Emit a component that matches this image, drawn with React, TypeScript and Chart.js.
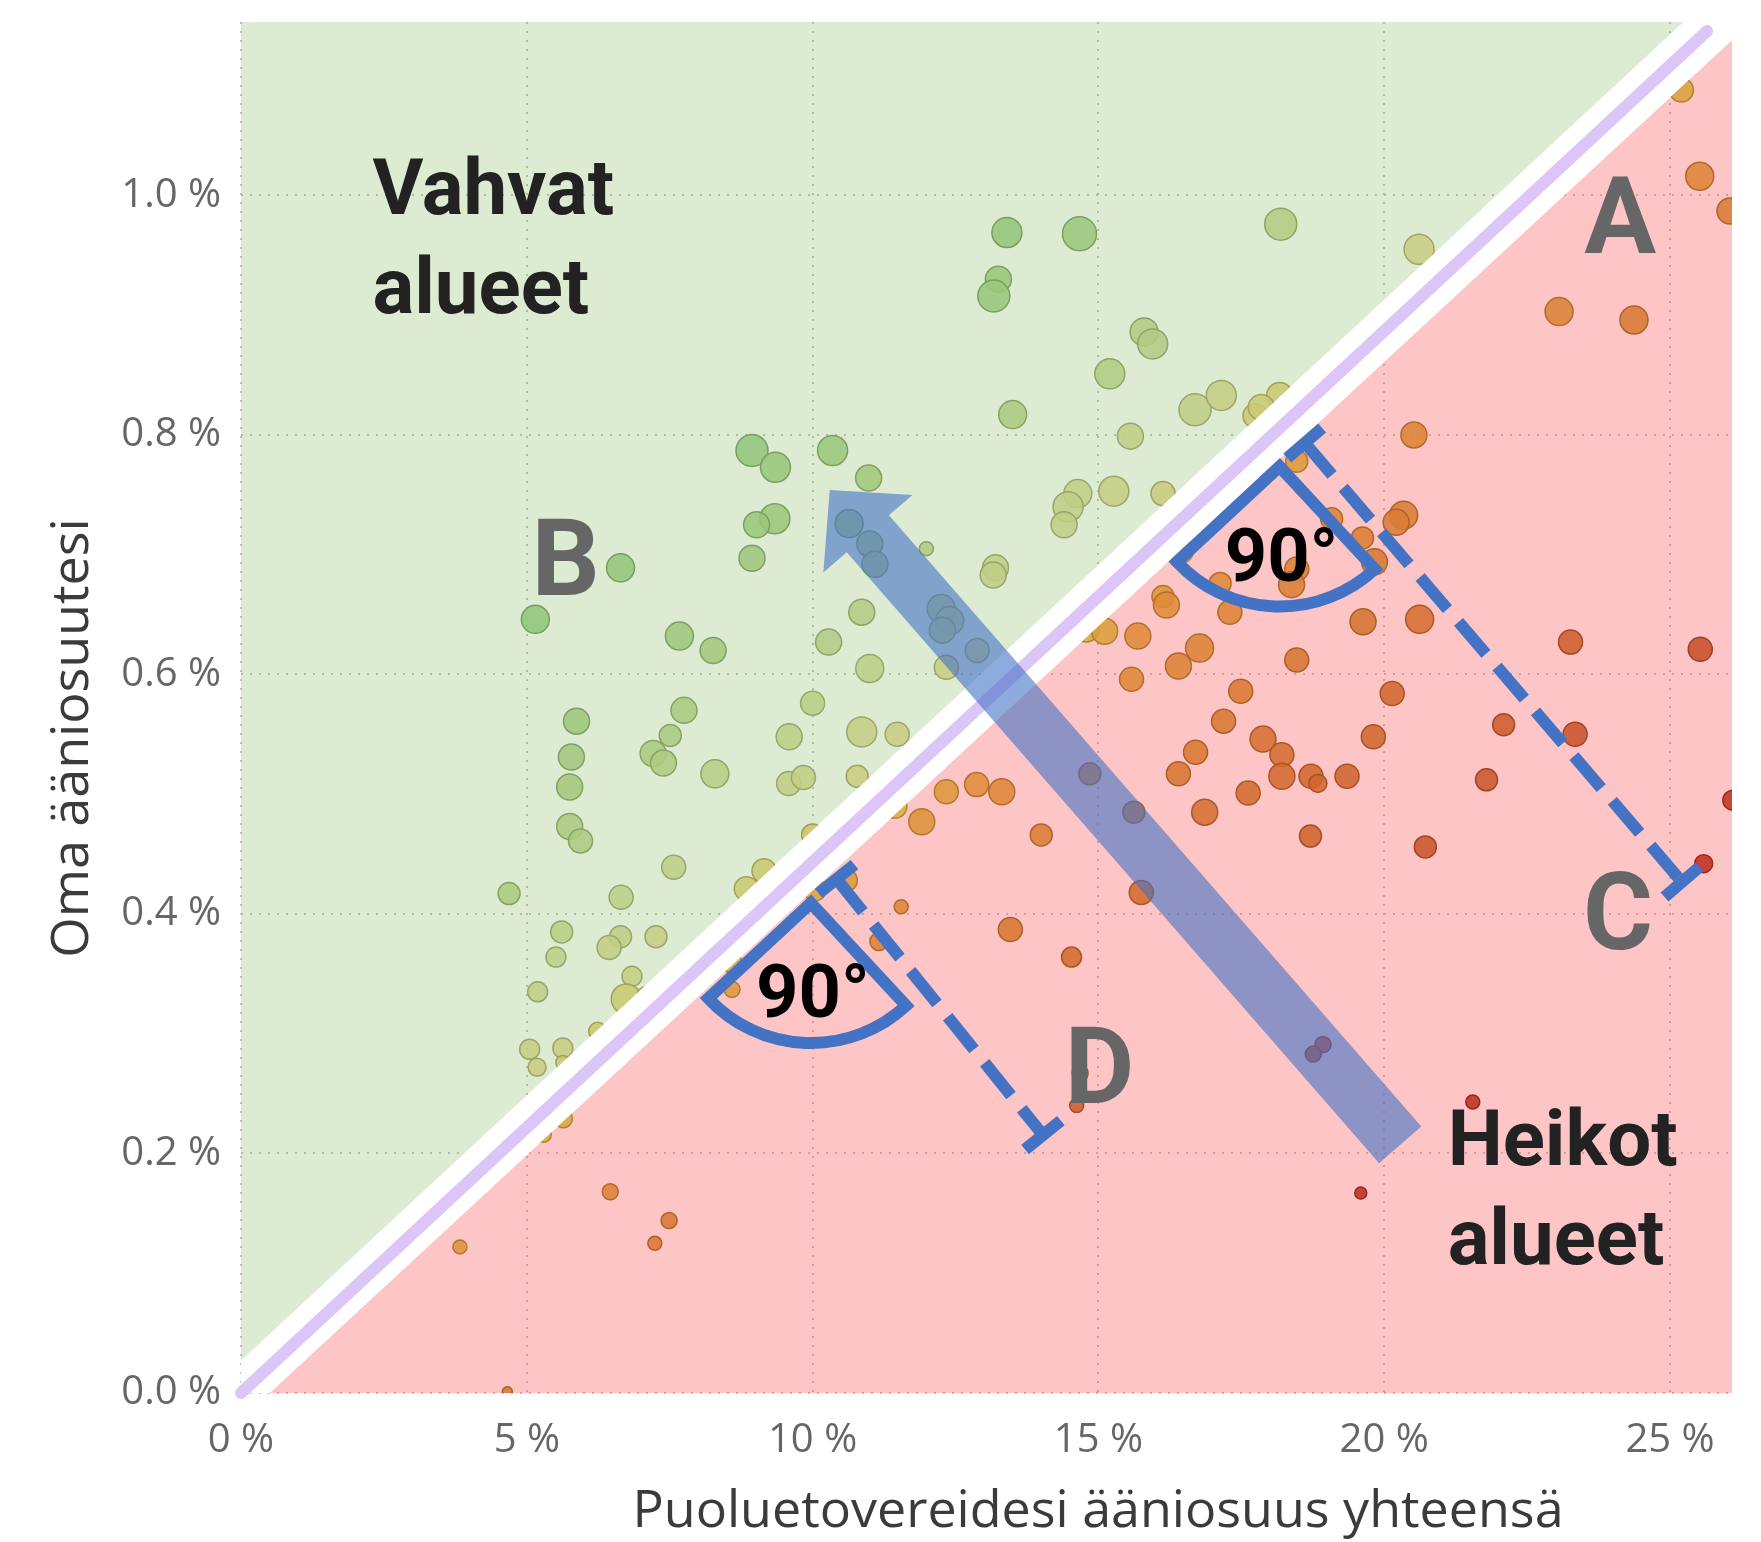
import React, { useEffect, useRef } from "react";
import { Chart, registerables } from "chart.js";

Chart.register(...registerables);

// ---------------- data ----------------
// x = party colleagues' combined vote share (%), y = own vote share (%), size = relative weight of area
const pointX = [
  8.94, 9.35, 10.35, 10.98, 9.34, 9.02, 8.94, 6.64, 5.15, 10.64, 11.0, 11.09, 7.67, 8.26, 10.86, 10.28, 11.0, 10.0,
  5.87, 5.78, 5.75, 5.75, 5.94, 7.75, 7.51, 7.21, 7.39, 8.29, 9.59, 10.86, 9.58, 9.84, 10.78, 10.0, 10.93, 7.57,
  4.69, 6.65, 9.15, 8.84, 10.59, 10.04, 5.61, 5.51, 6.64, 6.44, 7.26, 5.19, 6.84, 6.74, 7.09, 5.05, 5.63, 5.18,
  6.24, 5.63, 5.64, 5.29, 8.59, 8.59, 11.16, 11.55, 6.46, 7.49, 7.24, 3.83, 4.66, 13.4, 14.67, 13.25, 13.17, 15.8,
  15.95, 15.2, 13.5, 16.69, 17.15, 17.74, 15.56, 14.64, 14.47, 14.4, 15.27, 16.13, 11.99, 13.2, 13.16, 16.08, 16.45,
  17.13, 16.13, 12.25, 12.4, 12.27, 12.88, 12.34, 11.48, 14.79, 15.11, 15.69, 16.19, 17.3, 16.77, 16.4, 15.58, 17.49,
  17.19, 16.7, 16.4, 16.86, 17.62, 14.85, 15.62, 15.75, 12.34, 12.87, 13.31, 11.44, 11.91, 14.0, 13.46, 14.53, 19.63,
  20.62, 18.47, 23.26, 25.53, 20.14, 22.09, 23.34, 19.81, 17.88, 18.21, 18.21, 18.72, 18.84, 19.35, 21.79, 18.71,
  20.72, 25.59, 26.1, 25.2, 18.19, 20.61, 25.52, 26.05, 23.06, 24.37, 20.52, 18.17, 17.85, 18.47, 20.34, 20.21,
  19.08, 19.62, 19.83, 18.47, 18.38, 14.68, 14.62, 18.93, 18.76, 21.55, 19.59,
];
const pointY = [
  0.787, 0.773, 0.787, 0.764, 0.73, 0.725, 0.697, 0.689, 0.646, 0.726, 0.709, 0.692, 0.632, 0.62, 0.652, 0.627, 0.605, 0.576,
  0.561, 0.531, 0.506, 0.473, 0.461, 0.57, 0.549, 0.534, 0.526, 0.517, 0.548, 0.552, 0.509, 0.514, 0.515, 0.466, 0.473, 0.439,
  0.417, 0.414, 0.436, 0.421, 0.428, 0.42, 0.385, 0.364, 0.381, 0.372, 0.381, 0.335, 0.348, 0.329, 0.332, 0.287, 0.288, 0.272,
  0.302, 0.276, 0.229, 0.216, 0.359, 0.337, 0.377, 0.406, 0.168, 0.144, 0.125, 0.122, 0.001, 0.969, 0.968, 0.93, 0.916, 0.886,
  0.876, 0.851, 0.817, 0.821, 0.833, 0.816, 0.799, 0.751, 0.74, 0.725, 0.753, 0.751, 0.705, 0.689, 0.683, 0.707, 0.703,
  0.676, 0.665, 0.655, 0.645, 0.637, 0.62, 0.606, 0.55, 0.638, 0.636, 0.632, 0.658, 0.652, 0.622, 0.607, 0.596, 0.586,
  0.561, 0.535, 0.517, 0.485, 0.501, 0.517, 0.485, 0.418, 0.502, 0.508, 0.502, 0.49, 0.477, 0.466, 0.387, 0.364, 0.644,
  0.646, 0.612, 0.627, 0.621, 0.584, 0.558, 0.55, 0.548, 0.546, 0.533, 0.515, 0.515, 0.509, 0.515, 0.512, 0.465,
  0.456, 0.442, 0.495, 1.088, 0.976, 0.955, 1.016, 0.987, 0.903, 0.896, 0.8, 0.833, 0.823, 0.778, 0.733, 0.727,
  0.73, 0.714, 0.694, 0.688, 0.675, 0.267, 0.24, 0.291, 0.283, 0.243, 0.167,
];
const pointSize = [
  16, 15, 15, 13, 15, 13, 13, 14, 14, 14, 13, 13, 14, 13, 13, 13, 14, 12,
  13, 13, 13, 13, 12, 13, 11, 13, 13, 14, 13, 15, 12, 12, 11, 11, 10, 12,
  11, 12, 12, 12, 11, 11, 11, 10, 11, 12, 11, 10, 10, 15, 9, 10, 10, 9,
  9, 7, 9, 8, 10, 8, 9, 7, 8, 8, 7, 7, 5, 15, 17, 13, 16, 14,
  15, 15, 14, 16, 15, 12, 13, 14, 15, 13, 15, 12, 7, 13, 13, 12, 12,
  11, 11, 14, 14, 13, 12, 12, 12, 13, 13, 13, 13, 12, 14, 13, 12, 12,
  12, 12, 12, 13, 12, 11, 11, 12, 12, 12, 13, 12, 13, 11, 12, 10, 13,
  14, 12, 12, 12, 12, 11, 12, 12, 13, 12, 13, 12, 9, 12, 11, 11,
  11, 9, 10, 12, 16, 15, 14, 13, 14, 14, 13, 13, 13, 11, 14, 13,
  11, 11, 13, 12, 13, 8, 7, 8, 8, 7, 6,
];

// reference line (equal performance) and the two shaded zones
const diagonalX = [0, 25.65];
const diagonalY = [0, 1.1373];
const strongZoneX = [0, 0, 25.24];
const strongZoneY = [0.027, 1.1448, 1.1448];
const weakZoneX = [0.5, 26.085, 26.085];
const weakZoneY = [0, 0, 1.1298];
const bandX = [0, 25.24, 26.085, 26.085, 0.5, 0];
const bandY = [0.027, 1.1448, 1.1448, 1.1298, 0, 0];

const X_MIN = 0;
const X_MAX = 26.085;
const Y_MIN = 0;
const Y_MAX = 1.1448;
const X_STEP = 5;
const Y_STEP = 0.2;

const xTitle = "Puoluetovereidesi ääniosuus yhteensä";
const yTitle = "Oma ääniosuutesi";

// annotation anchors (data units)
const arrowTail = { x: 20.28, y: 0.2071 };
const arrowTip = { x: 10.3, y: 0.754 };
const rightAngleVertices = [
  { x: 18.17, y: 0.7736 },
  { x: 9.97, y: 0.4091 },
];
const dimensionLines = [
  { from: { x: 18.61, y: 0.7933 }, to: { x: 25.21, y: 0.4267 } },
  { from: { x: 10.42, y: 0.4292 }, to: { x: 14.03, y: 0.2154 } },
];
const letterMarks = [
  { text: "A", x: 24.13, y: 0.952 },
  { text: "B", x: 5.68, y: 0.6663 },
  { text: "C", x: 24.09, y: 0.3707 },
  { text: "D", x: 15.02, y: 0.2422 },
];
const zoneLabels = [
  { lines: ["Vahvat", "alueet"], x: 2.3, y: 0.9845 },
  { lines: ["Heikot", "alueet"], x: 21.11, y: 0.1904 },
];

// ---------------- styles ----------------
const SIZE_SCALE = 1;
const BLUE = "#4472c4";
const colorStops: [number, number[]][] = [
  [-0.7, [190, 48, 32]],
  [-0.48, [202, 85, 45]],
  [-0.25, [214, 112, 50]],
  [-0.06, [224, 140, 58]],
  [-0.02, [218, 170, 60]],
  [0.0, [210, 190, 70]],
  [0.04, [200, 205, 130]],
  [0.12, [188, 207, 135]],
  [0.25, [165, 200, 125]],
  [0.4, [145, 198, 122]],
];
const slope = diagonalY[1] / diagonalX[1];
function rgbFor(x: number, y: number): number[] {
  const d = y - slope * x;
  if (d <= colorStops[0][0]) return colorStops[0][1];
  for (let i = 1; i < colorStops.length; i++) {
    const [d1, c1] = colorStops[i];
    const [d0, c0] = colorStops[i - 1];
    if (d <= d1) {
      const t = (d - d0) / (d1 - d0);
      return c0.map((v, k) => Math.round(v + (c1[k] - v) * t));
    }
  }
  return colorStops[colorStops.length - 1][1];
}

const zip = (xs: number[], ys: number[]) => xs.map((x, i) => ({ x, y: ys[i] }));

const overlayPlugin = {
  id: "overlay",
  afterDatasetsDraw(chart: any) {
    const ctx: CanvasRenderingContext2D = chart.ctx;
    const xs = chart.scales.x;
    const ys = chart.scales.y;
    const P = (p: { x: number; y: number }) => ({ x: xs.getPixelForValue(p.x), y: ys.getPixelForValue(p.y) });
    const a = P({ x: diagonalX[0], y: diagonalY[0] });
    const b = P({ x: diagonalX[1], y: diagonalY[1] });
    const L = Math.hypot(b.x - a.x, b.y - a.y);
    const u = { x: (b.x - a.x) / L, y: (b.y - a.y) / L };
    const n = { x: -u.y, y: u.x };

    ctx.save();

    // right-angle sectors
    const R = 140;
    rightAngleVertices.forEach((vd) => {
      const V = P(vd);
      ctx.beginPath();
      ctx.moveTo(V.x - u.x * R, V.y - u.y * R);
      ctx.lineTo(V.x, V.y);
      ctx.lineTo(V.x + n.x * R, V.y + n.y * R);
      ctx.arc(V.x, V.y, R, Math.atan2(n.y, n.x), Math.atan2(-u.y, -u.x), false);
      ctx.closePath();
      ctx.lineWidth = 12;
      ctx.strokeStyle = BLUE;
      ctx.lineJoin = "miter";
      ctx.stroke();
      ctx.fillStyle = "#000";
      ctx.font = "bold 74px Roboto";
      ctx.textAlign = "center";
      ctx.textBaseline = "alphabetic";
      ctx.fillText("90°", V.x + 2, V.y + 114);
    });

    // dimension lines
    dimensionLines.forEach((dl) => {
      const S = P(dl.from);
      const E = P(dl.to);
      const len = Math.hypot(E.x - S.x, E.y - S.y);
      const dir = { x: (E.x - S.x) / len, y: (E.y - S.y) / len };
      const perp = { x: -dir.y, y: dir.x };
      ctx.strokeStyle = BLUE;
      ctx.lineWidth = 12;
      ctx.lineCap = "butt";
      ctx.setLineDash([42, 17]);
      ctx.beginPath();
      ctx.moveTo(S.x, S.y);
      ctx.lineTo(E.x, E.y);
      ctx.stroke();
      ctx.setLineDash([]);
      [S, E].forEach((pt) => {
        ctx.beginPath();
        ctx.moveTo(pt.x + perp.x * 23, pt.y + perp.y * 23);
        ctx.lineTo(pt.x - perp.x * 23, pt.y - perp.y * 23);
        ctx.stroke();
      });
    });

    // letters
    ctx.fillStyle = "#666666";
    ctx.font = "bold 107px Roboto";
    ctx.textAlign = "center";
    ctx.textBaseline = "alphabetic";
    letterMarks.forEach((m) => {
      const p = P(m);
      ctx.fillText(m.text, p.x, p.y);
    });

    // zone labels
    ctx.fillStyle = "#222222";
    ctx.font = "bold 78px Roboto";
    ctx.textAlign = "left";
    zoneLabels.forEach((z) => {
      const p = P(z);
      z.lines.forEach((line, i) => ctx.fillText(line, p.x, p.y + i * 99));
    });

    // big arrow
    const T = P(arrowTail);
    const H = P(arrowTip);
    const al = Math.hypot(H.x - T.x, H.y - T.y);
    const ad = { x: (H.x - T.x) / al, y: (H.y - T.y) / al };
    const ap = { x: -ad.y, y: ad.x };
    const shaftW = 56;
    const headW = 118;
    const headL = 58;
    const base = { x: H.x - ad.x * headL, y: H.y - ad.y * headL };
    ctx.beginPath();
    ctx.moveTo(T.x + ap.x * shaftW / 2, T.y + ap.y * shaftW / 2);
    ctx.lineTo(base.x + ap.x * shaftW / 2, base.y + ap.y * shaftW / 2);
    ctx.lineTo(base.x + ap.x * headW / 2, base.y + ap.y * headW / 2);
    ctx.lineTo(H.x, H.y);
    ctx.lineTo(base.x - ap.x * headW / 2, base.y - ap.y * headW / 2);
    ctx.lineTo(base.x - ap.x * shaftW / 2, base.y - ap.y * shaftW / 2);
    ctx.lineTo(T.x - ap.x * shaftW / 2, T.y - ap.y * shaftW / 2);
    ctx.closePath();
    ctx.fillStyle = "rgba(68,114,196,0.6)";
    ctx.fill();

    ctx.restore();
  },
  afterDraw(chart: any) {
    const ctx: CanvasRenderingContext2D = chart.ctx;
    const area = chart.chartArea;
    ctx.save();
    ctx.fillStyle = "#3b3b3b";
    ctx.font = "52px 'Open Sans'";
    ctx.textAlign = "center";
    ctx.textBaseline = "alphabetic";
    ctx.fillText(xTitle, area.left + 857, area.bottom + 134);
    ctx.translate(area.left - 153, area.top + 716);
    ctx.rotate(-Math.PI / 2);
    ctx.fillText(yTitle, 0, 0);
    ctx.restore();
  },
};

export default function App() {
  const ref = useRef<HTMLCanvasElement>(null);
  useEffect(() => {
    document.body.style.margin = "0";
    document.documentElement.style.overflow = "hidden";
    const points = pointX.map((x, i) => ({ x, y: pointY[i], r: pointSize[i] * SIZE_SCALE }));
    const rgbs = pointX.map((x, i) => rgbFor(x, pointY[i]));
    const fills = rgbs.map((c) => `rgba(${c[0]},${c[1]},${c[2]},0.88)`);
    const borders = rgbs.map((c) => `rgb(${Math.round(c[0] * 0.8)},${Math.round(c[1] * 0.8)},${Math.round(c[2] * 0.8)})`);

    const tickFont = { family: "'Open Sans', sans-serif", size: 40 };
    const gridCommon = { color: "#c2c2c2", lineWidth: 2, drawTicks: false, borderDash: [2, 7] };

    const chart = new Chart(ref.current as HTMLCanvasElement, {
      type: "bubble",
      data: {
        datasets: [
          {
            type: "line",
            data: zip(strongZoneX, strongZoneY),
            fill: "shape",
            backgroundColor: "rgba(112,173,71,0.24)",
            borderWidth: 0,
            pointRadius: 0,
            tension: 0,
            order: 10,
          } as any,
          {
            type: "line",
            data: zip(weakZoneX, weakZoneY),
            fill: "shape",
            backgroundColor: "rgba(248,80,80,0.33)",
            borderWidth: 0,
            pointRadius: 0,
            tension: 0,
            order: 9,
          } as any,
          {
            type: "bubble",
            data: points,
            backgroundColor: fills,
            borderColor: borders,
            borderWidth: 1.5,
            order: 5,
          } as any,
          {
            type: "line",
            data: zip(bandX, bandY),
            fill: "shape",
            backgroundColor: "#ffffff",
            borderWidth: 0,
            pointRadius: 0,
            tension: 0,
            order: 3,
          } as any,
          {
            type: "line",
            data: zip(diagonalX, diagonalY),
            fill: false,
            borderColor: "#dcc6f7",
            borderWidth: 12,
            borderCapStyle: "round",
            pointRadius: 0,
            tension: 0,
            clip: false,
            order: 1,
          } as any,
        ],
      },
      options: {
        responsive: false,
        animation: false,
        devicePixelRatio: 1,
        events: [],
        layout: { padding: { top: 22, right: 29, left: 0, bottom: 0 } },
        plugins: { legend: { display: false }, tooltip: { enabled: false } },
        scales: {
          x: {
            type: "linear",
            min: X_MIN,
            max: X_MAX,
            afterFit: (s: any) => {
              s.height = 149;
              s.paddingLeft = 0;
              s.paddingRight = 0;
              s.paddingTop = 0;
              s.paddingBottom = 0;
            },
            ticks: {
              stepSize: X_STEP,
              includeBounds: false,
              maxRotation: 0,
              autoSkip: false,
              padding: 24,
              color: "#666666",
              font: tickFont,
              callback: (v: any) => `${v} %`,
            },
            grid: gridCommon,
            border: { display: false, dash: [2, 7] },
          },
          y: {
            type: "linear",
            min: Y_MIN,
            max: Y_MAX,
            afterFit: (s: any) => {
              s.width = 241;
              s.paddingLeft = 0;
              s.paddingRight = 0;
              s.paddingTop = 0;
              s.paddingBottom = 0;
            },
            ticks: {
              stepSize: Y_STEP,
              includeBounds: false,
              autoSkip: false,
              padding: 20,
              color: "#666666",
              font: tickFont,
              callback: (v: any) => `${Number(v).toFixed(1)} %`,
            },
            grid: gridCommon,
            border: { display: false, dash: [2, 7] },
          },
        },
      } as any,
      plugins: [overlayPlugin],
    });
    return () => chart.destroy();
  }, []);
  return (
    <div style={{ width: 1761, height: 1542, background: "#ffffff" }}>
      <canvas ref={ref} width={1761} height={1542} style={{ display: "block", width: 1761, height: 1542 }} />
    </div>
  );
}
